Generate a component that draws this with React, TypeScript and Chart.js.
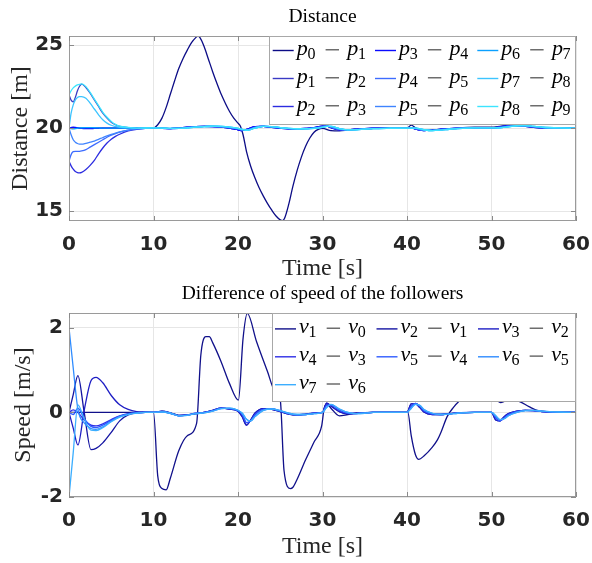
import React, { useEffect, useRef } from 'react';
import { Chart, registerables } from 'chart.js';

Chart.register(...registerables);

// ---------------- DATA ----------------
const X_TICKS = [0, 10, 20, 30, 40, 50, 60];
const TOP_Y_TICKS = [15, 20, 25];
const BOT_Y_TICKS = [-2, 0, 2];
const TOP_Y_MIN = 14.4;
const TOP_Y_MAX = 25.55;
const BOT_Y_MIN = -2;
const BOT_Y_MAX = 2.35;

const TOP_LABELS = ['p_0 - p_1', 'p_1 - p_2', 'p_2 - p_3', 'p_3 - p_4', 'p_4 - p_5', 'p_5 - p_6', 'p_6 - p_7', 'p_7 - p_8', 'p_8 - p_9'];
const TOP_COLORS = ['#0c0c86', '#3a3ac4', '#2c2ce0', '#0a0aff', '#3d6cff', '#3f84ff', '#0aa0ff', '#3cc4ff', '#3ce4ff'];
const BOT_LABELS = ['v_1 - v_0', 'v_2 - v_1', 'v_3 - v_2', 'v_4 - v_3', 'v_5 - v_4', 'v_6 - v_5', 'v_7 - v_6'];
const BOT_COLORS = ['#10108a', '#1414a2', '#1e1ec4', '#2e2ee6', '#2f5cff', '#2f8cff', '#3caeff'];

// Distance: leader/first follower
const P01_T = [0, 2, 4, 6, 8, 10, 10.5, 11, 11.5, 12, 12.5, 13, 13.5, 14, 14.5, 15, 15.25, 15.5, 16, 16.5, 17, 17.5, 18, 18.5, 19, 19.5, 20, 20.3, 20.6, 21, 21.5, 22, 22.5, 23, 23.5, 24, 24.5, 25, 25.25, 25.5, 26, 26.5, 27, 27.5, 28, 28.5, 29, 29.5, 30, 31, 32, 33, 34, 35, 36, 38, 40, 40.5, 41, 42, 43, 44, 45, 46, 48, 50, 51, 52, 53, 54, 55, 56, 58, 60];
const P01_Y = [20.0, 20.0, 20.0, 20.0, 20.0, 20.0, 20.2, 20.6, 21.25, 22.05, 22.85, 23.6, 24.2, 24.7, 25.15, 25.45, 25.55, 25.45, 24.9, 24.15, 23.4, 22.7, 22.05, 21.5, 21.0, 20.6, 20.3, 20.1, 19.6, 18.6, 17.7, 17.0, 16.4, 15.9, 15.45, 15.05, 14.7, 14.47, 14.42, 14.55, 15.4, 16.5, 17.45, 18.25, 18.9, 19.4, 19.75, 19.92, 19.98, 19.85, 19.83, 19.88, 19.93, 19.96, 19.98, 20.0, 20.0, 20.18, 20.02, 19.86, 19.86, 19.9, 19.95, 20.0, 20.05, 20.05, 20.1, 20.16, 20.18, 20.12, 20.05, 20.02, 20.0, 20.0];

// Distance: other pairs, common time base
const TP = [0, 0.25, 0.5, 0.75, 1, 1.25, 1.5, 2, 2.5, 3, 3.5, 4, 4.5, 5, 5.5, 6, 7, 8, 10, 11, 12, 13, 14, 15, 16, 17, 18, 19, 20, 20.5, 21, 22, 23, 24, 25, 26, 27, 28, 29, 30, 30.5, 31, 32, 33, 34, 35, 36, 38, 40, 40.5, 41, 42, 43, 44, 45, 46, 48, 50, 51, 52, 53, 54, 55, 56, 58, 60];
const P12_START = [22.0, 21.68, 21.58, 21.85, 22.25, 22.52, 22.65, 22.45, 22.1, 21.7, 21.3, 20.9, 20.6, 20.35, 20.2, 20.1, 20.03, 20.0];
const P23_START = [18.0, 17.72, 17.52, 17.38, 17.32, 17.3, 17.33, 17.5, 17.75, 18.05, 18.45, 18.8, 19.1, 19.33, 19.5, 19.63, 19.83, 19.93];
const P34_START = [20.0, 20.03, 20.05, 20.04, 20.02, 20.0, 19.98, 19.97, 19.97, 19.98, 19.99, 19.99, 20.0, 20.0, 20.0, 20.0, 20.0, 20.0];
const P45_START = [18.0, 18.4, 18.58, 18.6, 18.6, 18.6, 18.62, 18.7, 18.85, 19.0, 19.15, 19.3, 19.45, 19.57, 19.67, 19.75, 19.88, 19.95];
const P56_START = [20.0, 19.6, 19.3, 19.15, 19.07, 19.03, 19.03, 19.08, 19.15, 19.22, 19.32, 19.43, 19.53, 19.62, 19.7, 19.77, 19.88, 19.95];
const P67_START = [20.0, 19.97, 19.96, 19.97, 19.99, 20.01, 20.02, 20.03, 20.03, 20.02, 20.01, 20.0, 20.0, 20.0, 20.0, 20.0, 20.0, 20.0];
const P78_START = [20.0, 20.9, 21.4, 21.7, 21.85, 21.9, 21.9, 21.8, 21.5, 21.15, 20.8, 20.5, 20.3, 20.17, 20.1, 20.05, 20.01, 20.0];
const P89_START = [22.0, 22.25, 22.42, 22.53, 22.6, 22.64, 22.66, 22.5, 22.15, 21.75, 21.35, 20.95, 20.65, 20.4, 20.22, 20.12, 20.04, 20.0];
const TOP_LATE_A = [20.0, 19.98, 19.97, 20.01, 20.06, 20.09, 20.1, 20.09, 20.06, 20.0, 19.9, 19.85, 19.92, 20.08, 20.1, 20.04, 19.99, 19.96, 19.96, 19.98, 20.02, 20.12, 20.12, 20.02, 19.9, 19.9, 19.94, 19.97, 19.99, 20.0, 20.0, 20.03, 19.93, 19.85, 19.88, 19.93, 19.97, 20.0, 20.02, 20.01, 20.07, 20.14, 20.15, 20.1, 20.05, 20.02, 20.0, 20.0];
const TOP_LATE_B = [20.0, 19.99, 19.97, 19.99, 20.04, 20.08, 20.1, 20.1, 20.08, 20.03, 19.95, 19.88, 19.88, 20.04, 20.11, 20.07, 20.01, 19.97, 19.96, 19.97, 20.0, 20.08, 20.13, 20.06, 19.93, 19.89, 19.92, 19.96, 19.98, 20.0, 20.0, 20.01, 19.97, 19.87, 19.86, 19.91, 19.95, 19.99, 20.02, 20.01, 20.04, 20.11, 20.16, 20.13, 20.07, 20.03, 20.0, 20.0];
const TOP_LATE_C = [20.01, 20.0, 19.98, 19.98, 20.02, 20.06, 20.09, 20.11, 20.1, 20.06, 19.98, 19.92, 19.87, 20.0, 20.1, 20.09, 20.03, 19.98, 19.96, 19.96, 19.98, 20.04, 20.1, 20.1, 19.97, 19.89, 19.9, 19.94, 19.97, 19.99, 20.0, 20.0, 20.0, 19.9, 19.85, 19.88, 19.93, 19.97, 20.01, 20.01, 20.02, 20.07, 20.14, 20.15, 20.1, 20.05, 20.01, 20.0];

// Speed: leader/first follower
const V10_T = [0, 2, 4, 6, 8, 10, 10.5, 11, 11.5, 12, 13, 14, 15.1, 15.6, 16.2, 16.6, 17, 18, 19, 20.05, 20.6, 21.1, 22.2, 23.5, 24.3, 25, 25.45, 26.2, 26.5, 27, 28, 29, 29.9, 30.2, 30.5, 31, 32, 33, 34, 36, 38, 40.1, 40.5, 41, 41.4, 42, 43, 43.6, 44, 44.75, 45.5, 46.1, 47, 48, 49, 50, 50.5, 51.1, 51.5, 52, 53, 53.4, 54.5, 55.4, 56.5, 58, 60];
const V10_Y = [0, 0, 0, 0, 0, 0, -1.5, -1.8, -1.83, -1.55, -0.9, -0.55, -0.26, 1.35, 1.79, 1.79, 1.65, 1.2, 0.68, 0.29, 1.75, 2.34, 1.67, 0.96, 0.53, 0.3, -1.38, -1.8, -1.77, -1.58, -1.12, -0.7, -0.32, 0.1, 0.2, 0.1, -0.08, -0.05, -0.02, 0, 0, 0, -0.55, -1.0, -1.11, -1.03, -0.82, -0.65, -0.48, -0.1, 0.12, 0.25, 0.4, 0.48, 0.5, 0.47, 0.32, 0.23, 0.26, 0.3, 0.28, 0.25, 0.13, 0.05, 0.02, 0, 0];

// Speed: other pairs, common time base
const TV = [0, 0.5, 1.05, 1.8, 2.6, 3.2, 4, 5, 6, 7, 8, 9, 10, 11, 12, 13, 14, 15, 16, 17, 18, 19, 20, 20.5, 21, 21.5, 22, 23, 24, 25, 26, 27, 28, 29, 30, 30.5, 31, 32, 33, 34, 35, 36, 38, 40, 40.5, 41, 41.5, 42, 43, 44, 45, 46, 48, 50, 50.5, 51, 51.5, 52, 53, 54, 55, 56, 58, 60];
const V21_START = [0, 0.42, 0.87, 0.0, -0.88, -0.85, -0.72, -0.47, -0.2, -0.06, -0.01, 0.0];
const V32_START = [0, -0.37, -0.77, 0.05, 0.75, 0.83, 0.7, 0.4, 0.18, 0.07, 0.02, 0.01];
const V43_START = [0, 0.06, 0.0, -0.18, -0.3, -0.32, -0.27, -0.17, -0.08, -0.03, -0.01, 0.0];
const V54_START = [0, -0.05, 0.1, -0.15, -0.33, -0.36, -0.3, -0.19, -0.09, -0.04, -0.01, 0.0];
const V65_START = [2.0, 1.05, 0.08, -0.25, -0.38, -0.4, -0.34, -0.21, -0.1, -0.04, -0.01, 0.0];
const V76_START = [-2.0, -0.95, 0.18, -0.15, -0.42, -0.43, -0.36, -0.22, -0.11, -0.05, -0.02, 0.0];
const BOT_LATE_A = [0.0, 0.03, -0.01, -0.07, -0.06, -0.03, 0.0, 0.05, 0.1, 0.08, 0.03, -0.1, -0.3, -0.18, -0.02, 0.09, 0.07, 0.02, -0.04, -0.06, -0.04, -0.02, 0.0, 0.22, 0.15, 0.02, -0.03, -0.02, -0.01, 0.0, 0.0, 0.0, 0.2, 0.2, 0.12, 0.01, -0.05, -0.05, -0.03, -0.01, 0.0, 0.0, -0.18, -0.2, -0.1, -0.03, 0.03, 0.05, 0.04, 0.02, 0.0, 0.0];
const BOT_LATE_B = [0.0, 0.02, -0.02, -0.08, -0.06, -0.02, 0.0, 0.04, 0.1, 0.09, 0.04, -0.05, -0.24, -0.2, -0.06, 0.07, 0.08, 0.03, -0.03, -0.06, -0.05, -0.02, 0.0, 0.17, 0.18, 0.05, -0.02, -0.03, -0.01, 0.0, 0.0, 0.0, 0.14, 0.21, 0.15, 0.04, -0.04, -0.05, -0.04, -0.01, 0.0, 0.0, -0.12, -0.2, -0.13, -0.05, 0.02, 0.05, 0.04, 0.02, 0.0, 0.0];
const BOT_LATE_C = [0.0, 0.01, -0.02, -0.08, -0.07, -0.03, -0.01, 0.03, 0.09, 0.1, 0.05, -0.02, -0.16, -0.2, -0.1, 0.05, 0.08, 0.04, -0.02, -0.05, -0.05, -0.03, 0.0, 0.12, 0.19, 0.08, 0.0, -0.03, -0.02, 0.0, 0.0, 0.0, 0.1, 0.19, 0.17, 0.07, -0.02, -0.05, -0.04, -0.02, 0.0, 0.0, -0.08, -0.17, -0.15, -0.08, 0.0, 0.04, 0.05, 0.03, 0.01, 0.0];

const TOP_SERIES: [number[], number[]][] = [
  [P01_T, P01_Y],
  [TP, [...P12_START, ...TOP_LATE_A]],
  [TP, [...P23_START, ...TOP_LATE_A]],
  [TP, [...P34_START, ...TOP_LATE_A]],
  [TP, [...P45_START, ...TOP_LATE_B]],
  [TP, [...P56_START, ...TOP_LATE_B]],
  [TP, [...P67_START, ...TOP_LATE_C]],
  [TP, [...P78_START, ...TOP_LATE_C]],
  [TP, [...P89_START, ...TOP_LATE_C]],
];
const BOT_SERIES: [number[], number[]][] = [
  [V10_T, V10_Y],
  [TV, [...V21_START, ...BOT_LATE_A]],
  [TV, [...V32_START, ...BOT_LATE_A]],
  [TV, [...V43_START, ...BOT_LATE_B]],
  [TV, [...V54_START, ...BOT_LATE_B]],
  [TV, [...V65_START, ...BOT_LATE_C]],
  [TV, [...V76_START, ...BOT_LATE_C]],
];

// ---------------- DRAWING ----------------
const SERIF = '"Liberation Serif", "Times New Roman", serif';
const TICK_FONT = { family: '"DejaVu Sans", sans-serif', weight: 'bold' as const, size: 20 };

function drawMathLabel(ctx: CanvasRenderingContext2D, label: string, x0: number, baseline: number) {
  const parts = label.split(' - ');
  let x = x0;
  parts.forEach((part, i) => {
    if (i > 0) {
      ctx.fillStyle = '#4a4a4a';
      ctx.fillRect(x + 10.2, baseline - 5.8, 13.4, 1.2);
      x += 31.9;
    }
    const [base, sub] = part.split('_');
    ctx.fillStyle = '#000';
    ctx.font = `italic 22px ${SERIF}`;
    ctx.textAlign = 'left';
    ctx.textBaseline = 'alphabetic';
    ctx.fillText(base, x, baseline);
    const w = ctx.measureText(base).width;
    ctx.font = `16px ${SERIF}`;
    ctx.fillText(sub, x + w - 0.3, baseline + 4);
    x += w - 0.3 + ctx.measureText(sub).width;
  });
}

type PanelSpec = {
  width: number;
  height: number;
  area: { top: number; bottom: number; left: number; right: number };
  yMin: number;
  yMax: number;
  yTicks: number[];
  series: [number[], number[]][];
  labels: string[];
  colors: string[];
  title: string;
  titleY: number;
  xlabel: string;
  xlabelY: number;
  ylabel: string;
  ylabelX: number;
  legendBox: [number, number, number, number];
  legendRow0: number;
  legendRowStep: number;
  legendCol0: number;
  legendColStep: number;
  columnMajor: boolean;
};

const TOP_SPEC: PanelSpec = {
  width: 592,
  height: 281,
  area: { top: 36, bottom: 221, left: 69, right: 576 },
  yMin: TOP_Y_MIN,
  yMax: TOP_Y_MAX,
  yTicks: TOP_Y_TICKS,
  series: TOP_SERIES,
  labels: TOP_LABELS,
  colors: TOP_COLORS,
  title: 'Distance',
  titleY: 22,
  xlabel: 'Time [s]',
  xlabelY: 275,
  ylabel: 'Distance [m]',
  ylabelX: 26.5,
  legendBox: [269, 35.5, 576, 124],
  legendRow0: 55,
  legendRowStep: 28,
  legendCol0: 272.7,
  legendColStep: 102.3,
  columnMajor: true,
};

const BOT_SPEC: PanelSpec = {
  width: 592,
  height: 282,
  area: { top: 32, bottom: 216, left: 69, right: 576 },
  yMin: BOT_Y_MIN,
  yMax: BOT_Y_MAX,
  yTicks: BOT_Y_TICKS,
  series: BOT_SERIES,
  labels: BOT_LABELS,
  colors: BOT_COLORS,
  title: 'Difference of speed of the followers',
  titleY: 17.5,
  xlabel: 'Time [s]',
  xlabelY: 272,
  ylabel: 'Speed [m/s]',
  ylabelX: 29.5,
  legendBox: [272.3, 31.7, 576, 120.7],
  legendRow0: 52.4,
  legendRowStep: 27.9,
  legendCol0: 275,
  legendColStep: 101.5,
  columnMajor: false,
};

function makeFramePlugin(spec: PanelSpec) {
  return {
    id: 'matlabFrame',
    afterDatasetsDraw(chart: any) {
      const ctx: CanvasRenderingContext2D = chart.ctx;
      const a = chart.chartArea;
      const xs = chart.scales.x;
      const ys = chart.scales.y;
      ctx.save();
      // axes box
      ctx.strokeStyle = '#9a9a9a';
      ctx.lineWidth = 1;
      ctx.strokeRect(Math.round(a.left) + 0.5, Math.round(a.top) + 0.5, Math.round(a.right - a.left) - 1, Math.round(a.bottom - a.top) - 1);
      // inward tick marks
      ctx.strokeStyle = '#8a8a8a';
      ctx.beginPath();
      X_TICKS.forEach((t) => {
        const px = Math.round(xs.getPixelForValue(t)) + 0.5;
        ctx.moveTo(px, a.bottom);
        ctx.lineTo(px, a.bottom - 5);
        ctx.moveTo(px, a.top);
        ctx.lineTo(px, a.top + 5);
      });
      spec.yTicks.forEach((v) => {
        const py = Math.round(ys.getPixelForValue(v)) + 0.5;
        ctx.moveTo(a.left, py);
        ctx.lineTo(a.left + 5, py);
        ctx.moveTo(a.right, py);
        ctx.lineTo(a.right - 5, py);
      });
      ctx.stroke();

      // legend
      const [lx0, ly0, lx1, ly1] = spec.legendBox;
      ctx.fillStyle = '#ffffff';
      ctx.fillRect(lx0, ly0, lx1 - lx0, ly1 - ly0);
      ctx.strokeStyle = '#a8a8a8';
      ctx.lineWidth = 1;
      ctx.strokeRect(Math.round(lx0) + 0.5, Math.round(ly0) + 0.5, Math.round(lx1 - lx0) - 1, Math.round(ly1 - ly0) - 1);
      spec.labels.forEach((lab, i) => {
        const col = spec.columnMajor ? Math.floor(i / 3) : i % 3;
        const row = spec.columnMajor ? i % 3 : Math.floor(i / 3);
        const cx = spec.legendCol0 + col * spec.legendColStep;
        const by = spec.legendRow0 + row * spec.legendRowStep;
        ctx.strokeStyle = spec.colors[i];
        ctx.lineWidth = 1.4;
        ctx.beginPath();
        ctx.moveTo(cx, by - 4.5);
        ctx.lineTo(cx + 21, by - 4.5);
        ctx.stroke();
        drawMathLabel(ctx, lab, cx + 24, by);
      });
      ctx.restore();
    },
    afterDraw(chart: any) {
      const ctx: CanvasRenderingContext2D = chart.ctx;
      const a = chart.chartArea;
      const cx = (a.left + a.right) / 2;
      const cy = (a.top + a.bottom) / 2;
      ctx.save();
      ctx.fillStyle = '#000';
      ctx.textAlign = 'center';
      ctx.textBaseline = 'alphabetic';
      ctx.font = `19.5px ${SERIF}`;
      ctx.fillText(spec.title, cx, spec.titleY);
      ctx.font = `24px ${SERIF}`;
      ctx.fillStyle = '#262626';
      ctx.fillText(spec.xlabel, cx, spec.xlabelY);
      ctx.translate(spec.ylabelX, cy);
      ctx.rotate(-Math.PI / 2);
      ctx.fillText(spec.ylabel, 0, 0);
      ctx.restore();
    },
  };
}

function Panel({ spec }: { spec: PanelSpec }) {
  const ref = useRef<HTMLCanvasElement | null>(null);
  useEffect(() => {
    if (!ref.current) return;
    const datasets = spec.series.map(([ts, ys], i) => ({
      label: spec.labels[i],
      data: ts.map((t, j) => ({ x: t, y: ys[j] })),
      borderColor: spec.colors[i],
      backgroundColor: spec.colors[i],
      borderWidth: 1.3,
      pointRadius: 0,
      pointHoverRadius: 0,
      fill: false,
      cubicInterpolationMode: 'monotone' as const,
      order: -i,
    }));
    const chart = new Chart(ref.current, {
      type: 'line',
      data: { datasets },
      plugins: [makeFramePlugin(spec)],
      options: {
        animation: false,
        responsive: false,
        maintainAspectRatio: false,
        events: [],
        layout: {
          padding: { top: spec.area.top, right: spec.width - spec.area.right, bottom: 0, left: 0 },
        },
        plugins: { legend: { display: false }, title: { display: false }, tooltip: { enabled: false } },
        scales: {
          x: {
            type: 'linear',
            min: 0,
            max: 60,
            afterBuildTicks: (s: any) => {
              s.ticks = X_TICKS.map((v) => ({ value: v }));
            },
            afterFit: (s: any) => {
              s.height = spec.height - spec.area.bottom;
              s.paddingLeft = 0;
              s.paddingRight = 0;
              s.paddingTop = 0;
              s.paddingBottom = 0;
            },
            grid: { color: '#e6e6e6', lineWidth: 1, drawTicks: false },
            border: { display: false },
            ticks: { font: TICK_FONT, color: '#262626', padding: 12, maxRotation: 0, autoSkip: false },
          },
          y: {
            type: 'linear',
            min: spec.yMin,
            max: spec.yMax,
            afterBuildTicks: (s: any) => {
              s.ticks = spec.yTicks.map((v) => ({ value: v }));
            },
            afterFit: (s: any) => {
              s.width = spec.area.left;
              s.paddingLeft = 0;
              s.paddingRight = 0;
              s.paddingTop = 0;
              s.paddingBottom = 0;
            },
            grid: { color: '#e6e6e6', lineWidth: 1, drawTicks: false },
            border: { display: false },
            ticks: { font: TICK_FONT, color: '#262626', padding: 6, autoSkip: false },
          },
        },
      },
    });
    return () => chart.destroy();
  }, [spec]);
  return <canvas ref={ref} width={spec.width} height={spec.height} style={{ display: 'block', width: spec.width, height: spec.height }} />;
}

export default function App() {
  return (
    <div style={{ position: 'absolute', left: 0, top: 0, width: 592, height: 563, background: '#fff' }}>
      <Panel spec={TOP_SPEC} />
      <Panel spec={BOT_SPEC} />
    </div>
  );
}
